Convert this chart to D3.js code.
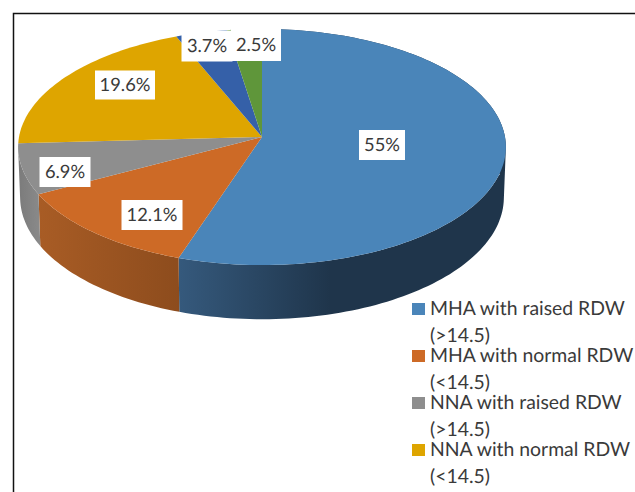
<!DOCTYPE html>
<html>
<head>
<meta charset="utf-8">
<script src="https://cdn.jsdelivr.net/npm/d3@7"></script>
<style>
  html, body { margin: 0; padding: 0; background: #fff; }
  svg { display: block; }
  text { font-family: Lato, "Open Sans", sans-serif; fill: #3a3a3a; text-rendering: geometricPrecision; }
</style>
</head>
<body>
<div id="chart"></div>
<script>
// Data
const sliceValues = [55, 12.1, 6.9, 19.6, 3.7, 2.5]
const sliceLabels = ['55%', '12.1%', '6.9%', '19.6%', '3.7%', '2.5%']
const sliceColors = ['#4a85b9', '#cd6a26', '#8e8e8e', '#dea500', '#3560a8', '#5f963a']
const legendLabels = [
  ['MHA with raised RDW', '(>14.5)'],
  ['MHA with normal RDW', '(<14.5)'],
  ['NNA with raised RDW', '(>14.5)'],
  ['NNA with normal RDW', '(<14.5)'],
]

// Dimensions
const dimensions = { width: 635, height: 492 }
const tilt = 0.0847 // perspective of the disc, the apex sits above the ellipse centre
const topFace = { cx: 262, cy: 137, rx: 243, ry: 117.2 }
const bottomFace = { cx: 262, cy: 187, rx: 241, ry: 121 }
const labelCentres = [[382, 145], [152, 215], [65, 172], [125, 85], [207, 46], [256, 45]]
const labelSizes = [[46, 30], [61, 30], [51, 30], [60, 29], [51, 31], [50, 32]]

const svg = d3.select('#chart')
  .append('svg')
  .attr('width', dimensions.width)
  .attr('height', dimensions.height)

// Frame
svg.append('path')
  .attr('d', `M13.5,${dimensions.height}V13.5H${dimensions.width}`)
  .attr('fill', 'none')
  .attr('stroke', '#111')
  .attr('stroke-width', 1.5)

// Scales
const pie = d3.pie().sort(null)
const arcs = pie(sliceValues)

const project = (face, angle) => {
  const u = Math.sin(angle)
  const v = -Math.cos(angle)
  const depth = 1 - tilt * v
  return [face.cx + face.rx * u / depth, face.cy + face.ry * v / depth]
}

const arcPoints = (face, a0, a1) => {
  const n = Math.max(2, Math.ceil((a1 - a0) * 40))
  return d3.range(n + 1).map(i => project(face, a0 + (a1 - a0) * i / n))
}

const line = d3.line()
const marks = svg.append('g').style('filter', 'blur(0.5px)')

// Gradients for the side wall
const wallStops = [
  { id: 'wall-blue', x1: 180, x2: 330, from: '#35597c', to: '#1f354b' },
  { id: 'wall-orange', x1: 40, x2: 180, from: '#a85c25', to: '#8d4c1d' },
  { id: 'wall-gray', x1: 20, x2: 40, from: '#7c7c7c', to: '#8a8a8a' },
]
const defs = svg.append('defs')
const gradients = defs.selectAll('linearGradient')
  .data(wallStops)
  .join('linearGradient')
  .attr('id', d => d.id)
  .attr('gradientUnits', 'userSpaceOnUse')
  .attr('x1', d => d.x1)
  .attr('x2', d => d.x2)
  .attr('y1', 0)
  .attr('y2', 0)
gradients.append('stop').attr('offset', 0).attr('stop-color', d => d.from)
gradients.append('stop').attr('offset', 1).attr('stop-color', d => d.to)

// Side wall is a strip of quads, all wound the same way so they don't cancel at the far right
const wallPath = d => {
  const upper = arcPoints(topFace, d.startAngle, d.endAngle)
  const lower = arcPoints(bottomFace, d.startAngle, d.endAngle)
  return d3.range(upper.length - 1)
    .map(i => {
      const quad = [upper[i], upper[i + 1], lower[i + 1], lower[i]]
      if (d3.polygonArea(quad) < 0) quad.reverse()
      return line(quad) + 'Z'
    })
    .join('')
}

// Draw side wall, the top face hides whatever is at the back
marks.append('g')
  .selectAll('path')
  .data(arcs.slice(0, 3))
  .join('path')
  .attr('fill', (d, i) => `url(#${wallStops[i].id})`)
  .attr('d', wallPath)

// Draw top face
marks.append('g')
  .selectAll('path')
  .data(arcs)
  .join('path')
  .attr('fill', (d, i) => sliceColors[i])
  .attr('d', d => line([
    [topFace.cx, topFace.cy],
    ...arcPoints(topFace, d.startAngle, d.endAngle),
  ]) + 'Z')

// Data labels
const labels = svg.append('g')
  .selectAll('g')
  .data(sliceLabels)
  .join('g')
  .attr('transform', (d, i) => `translate(${labelCentres[i][0]}, ${labelCentres[i][1]})`)

labels.append('rect')
  .attr('x', (d, i) => -labelSizes[i][0] / 2)
  .attr('y', (d, i) => -labelSizes[i][1] / 2)
  .attr('width', (d, i) => labelSizes[i][0])
  .attr('height', (d, i) => labelSizes[i][1])
  .attr('fill', '#fff')

labels.append('text')
  .attr('text-anchor', 'middle')
  .attr('dy', '0.35em')
  .attr('font-size', 18.3)
  .text(d => d)

// Legend
const legend = svg.append('g')
  .selectAll('g')
  .data(legendLabels)
  .join('g')
  .attr('transform', (d, i) => `translate(412, ${303 + i * 47})`)

legend.append('rect')
  .attr('width', 13)
  .attr('height', 12)
  .attr('fill', (d, i) => sliceColors[i])

legend.selectAll('text')
  .data(d => d)
  .join('text')
  .attr('x', 18)
  .attr('y', (d, i) => 12 + i * 27)
  .attr('font-size', 19.4)
  .text(d => d)
</script>
</body>
</html>
